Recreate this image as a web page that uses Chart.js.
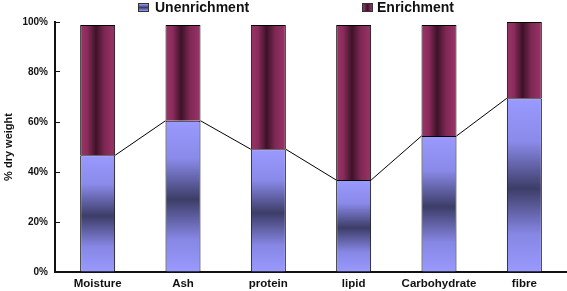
<!DOCTYPE html>
<html>
<head>
<meta charset="utf-8">
<script src="https://cdn.jsdelivr.net/npm/chart.js@4"></script>
<style>
  body{margin:0;background:#fff;}
  #wrap{position:relative;width:567px;height:291px;}
  .leg{position:absolute;top:0;font:bold 14px "Liberation Sans",Arial,sans-serif;color:#111;line-height:14px;}
  .leg span{position:absolute;top:3px;width:9px;height:7px;border:1px solid #333;}
  .leg b{position:absolute;top:0;white-space:nowrap;}
</style>
</head>
<body>
<div id="wrap">
  <canvas id="chart" width="567" height="291"></canvas>
  <div class="leg" style="left:138px"><span style="left:0;background:linear-gradient(#9999ff,#3d3d68,#9999ff)"></span><b style="left:17px">Unenrichment</b></div>
  <div class="leg" style="left:362px"><span style="left:0;background:linear-gradient(90deg,#993366,#40132a,#993366)"></span><b style="left:15px">Enrichment</b></div>
</div>
<script>
const categories = ['Moisture','Ash','protein','lipid','Carbohydrate','fibre'];
const unenrichment = [46.7, 60.5, 49.1, 36.8, 54.4, 69.5];
const enrichment = [52.1, 38.3, 49.7, 62.0, 44.4, 30.5];
const yTicks = [0, 20, 40, 60, 80, 100];

const barPct = 0.41;

function barBox(chart, i, lo, hi){
    const x = chart.scales.x, y = chart.scales.y;
    if(!x || !y) return null;
    const half = x.width / categories.length * barPct / 2;
    const cx = x.getPixelForValue(i);
    const b = {left: cx - half, right: cx + half, top: y.getPixelForValue(hi), bottom: y.getPixelForValue(lo)};
    return [b.left, b.right, b.top, b.bottom].every(Number.isFinite) ? b : null;
}

function blueFill(ctx){
    if(ctx.type !== 'data') return '#9999ff';
    const i = ctx.dataIndex;
    const b = barBox(ctx.chart, i, 0, unenrichment[i]);
    if(!b) return '#9999ff';
    const g = ctx.chart.ctx.createLinearGradient(0, b.top, 0, b.bottom);
    g.addColorStop(0, '#9a9aff');
    g.addColorStop(0.25, '#8a8aea');
    g.addColorStop(0.52, '#3d3d68');
    g.addColorStop(0.78, '#8686e4');
    g.addColorStop(1, '#9a9aff');
    return g;
}

function wineFill(ctx){
    if(ctx.type !== 'data') return '#993366';
    const i = ctx.dataIndex;
    const b = barBox(ctx.chart, i, unenrichment[i], unenrichment[i] + enrichment[i]);
    if(!b) return '#993366';
    const g = ctx.chart.ctx.createLinearGradient(b.left, 0, b.right, 0);
    g.addColorStop(0, '#9a3468');
    g.addColorStop(0.2, '#8a2c5c');
    g.addColorStop(0.45, '#3e1228');
    g.addColorStop(0.7, '#7e2854');
    g.addColorStop(1, '#9a3468');
    return g;
}

// series lines joining the tops of the Unenrichment bars
const seriesLines = {
    id: 'seriesLines',
    afterDatasetsDraw(chart){
        const els = chart.getDatasetMeta(0).data;
        const c = chart.ctx;
        c.save();
        c.strokeStyle = '#000';
        c.lineWidth = 1;
        c.beginPath();
        for(let i = 0; i < els.length - 1; i++){
            const a = els[i], b = els[i+1];
            c.moveTo(a.x + a.width/2, a.y);
            c.lineTo(b.x - b.width/2, b.y);
        }
        c.stroke();
        c.restore();
    }
};

const font = {family: '"Liberation Sans", Arial, sans-serif', weight: 'bold'};

new Chart(document.getElementById('chart'), {
    type: 'bar',
    data: {
        labels: categories,
        datasets: [{
            label: 'Unenrichment',
            data: unenrichment,
            backgroundColor: blueFill,
            borderColor: '#000',
            borderWidth: 1
        },{
            label: 'Enrichment',
            data: enrichment,
            backgroundColor: wineFill,
            borderColor: '#000',
            borderWidth: 1
        }]
    },
    options: {
        responsive: false,
        animation: false,
        devicePixelRatio: 1,
        layout: {padding: {top: 22, right: 0, bottom: 0, left: 0}},
        categoryPercentage: 1,
        barPercentage: barPct,
        plugins: {legend: {display: false}, tooltip: {enabled: false}},
        scales: {
            x: {
                stacked: true,
                grid: {display: false},
                border: {display: true, color: '#111', width: 2},
                ticks: {color: '#111', padding: -3, font: {...font, size: 11.5}},
                afterFit: s => { s.height = 19; }
            },
            y: {
                stacked: true,
                min: 0,
                max: 100,
                afterBuildTicks: s => { s.ticks = yTicks.map(v => ({value: v})); },
                ticks: {color: '#111', padding: 12, font: {...font, size: 10}, callback: v => v + '%'},
                grid: {drawOnChartArea: false, drawTicks: true, tickLength: -5, color: '#111'},
                border: {display: true, color: '#111', width: 2},
                title: {display: true, text: '% dry weight', color: '#111', font: {...font, size: 11}, padding: {top: 2, bottom: 2}},
                afterFit: s => { s.width = 55; }
            }
        }
    },
    plugins: [seriesLines]
});
</script>
</body>
</html>
